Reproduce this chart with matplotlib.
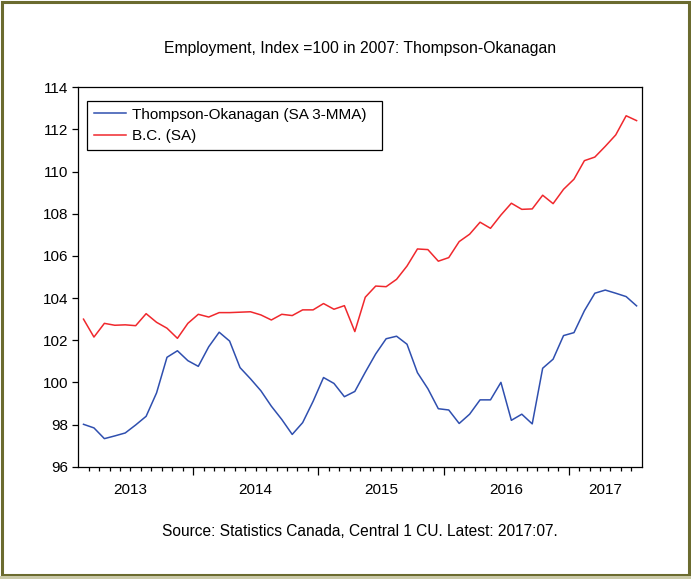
import matplotlib

matplotlib.use("Agg")
import matplotlib.pyplot as plt
import numpy as np
import pandas as pd
from matplotlib.patches import Rectangle
from matplotlib.ticker import FixedLocator, MultipleLocator, NullFormatter

# monthly data, 2013:02 - 2017:07
months = pd.period_range("2013-02", "2017-07", freq="M")
thompson_okanagan = [
    98.01, 97.84, 97.33, 97.46, 97.60, 97.98, 98.39, 99.50, 101.19, 101.50,
    101.03, 100.76, 101.69, 102.38, 101.96, 100.70, 100.17, 99.60, 98.87, 98.24,
    97.53, 98.09, 99.10, 100.23, 99.95, 99.32, 99.57, 100.48, 101.35, 102.07,
    102.19, 101.81, 100.46, 99.70, 98.75, 98.69, 98.05, 98.49, 99.17, 99.17,
    100.00, 98.20, 98.49, 98.03, 100.67, 101.10, 102.22, 102.36, 103.40, 104.23,
    104.38, 104.23, 104.07, 103.63,
]
bc = [
    103.00, 102.15, 102.80, 102.71, 102.73, 102.69, 103.26, 102.85, 102.57, 102.09,
    102.80, 103.23, 103.10, 103.31, 103.31, 103.33, 103.35, 103.20, 102.96, 103.23,
    103.17, 103.44, 103.44, 103.74, 103.47, 103.64, 102.41, 104.04, 104.57, 104.54,
    104.89, 105.52, 106.33, 106.30, 105.75, 105.92, 106.68, 107.03, 107.60, 107.31,
    107.94, 108.50, 108.21, 108.23, 108.88, 108.48, 109.16, 109.64, 110.52, 110.69,
    111.20, 111.74, 112.65, 112.42,
]
series_labels = ["Thompson-Okanagan (SA 3-MMA)", "B.C. (SA)"]
title = "Employment, Index =100 in 2007: Thompson-Okanagan"
source = "Source: Statistics Canada, Central 1 CU. Latest: 2017:07."

plt.rcParams["font.family"] = ["Liberation Sans", "DejaVu Sans"]
NARROW = ["Liberation Sans Narrow", "Liberation Sans", "DejaVu Sans"]

fig = plt.figure(figsize=(6.91, 5.79), dpi=100)
ax = fig.add_axes([0.1133, 0.194, 0.8155, 0.6552])

x = np.arange(len(months))
ax.plot(x, thompson_okanagan, color="#2F4FAF", lw=1.1, label=series_labels[0])
ax.plot(x, bc, color="#F0282D", lw=1.1, label=series_labels[1])

xmin, xmax = -0.5, len(months) - 0.5
ax.set_xlim(xmin, xmax)
ax.set_ylim(96, 114)
ax.yaxis.set_major_locator(MultipleLocator(2))

# year boundaries as major ticks, month boundaries as minor ticks
year_starts = [i for i, m in enumerate(months) if m.month == 1]
ax.xaxis.set_major_locator(FixedLocator([i - 0.5 for i in year_starts]))
ax.xaxis.set_minor_locator(FixedLocator(x[1:] - 0.5))
ax.xaxis.set_major_formatter(NullFormatter())
ax.tick_params(axis="x", which="major", direction="out", length=5.8, width=0.9)
ax.tick_params(axis="x", which="minor", direction="out", length=2.9, width=0.9)
ax.tick_params(axis="y", direction="out", length=4.3, width=0.9, pad=3, labelsize=11)

# year label centred on the calendar year, cut at the right end of the axis
first = months[0]
for year in sorted({m.year for m in months}):
    lo = (year - first.year) * 12 - (first.month - 1) - 0.5
    hi = min(lo + 12, xmax)
    ax.text((lo + hi) / 2, -0.0614, str(year), transform=ax.get_xaxis_transform(),
            ha="center", va="center", fontsize=11)

for spine in ax.spines.values():
    spine.set_linewidth(0.9)
    spine.set_color("black")

ax.legend(
    loc="upper left",
    bbox_to_anchor=(0.0154, 0.8303, 0.5228, 0.1344),
    mode="expand",
    borderaxespad=0,
    fancybox=False,
    framealpha=1,
    edgecolor="black",
    fontsize=11,
    handlelength=2.1,
    handletextpad=0.4,
    borderpad=0.45,
    labelspacing=0.5,
).get_frame().set_linewidth(0.9)

fig.text(0.521, 1 - 48 / 579, title, ha="center", va="center", fontsize=11.3, family=NARROW)
fig.text(0.521, 1 - 532 / 579, source, ha="center", va="center", fontsize=11.2, family=NARROW)

# olive outer frame
fig.patches.append(Rectangle((1.5 / 691, 4.5 / 579), 687 / 691, 573 / 579,
                             transform=fig.transFigure, fill=False,
                             edgecolor="#6B6B2F", linewidth=2.2))
fig.patches.append(Rectangle((0, 0), 1, 3 / 579, transform=fig.transFigure,
                             facecolor="#C9C9A8", edgecolor="none"))

fig.savefig("out.png", dpi=100)
plt.close(fig)
